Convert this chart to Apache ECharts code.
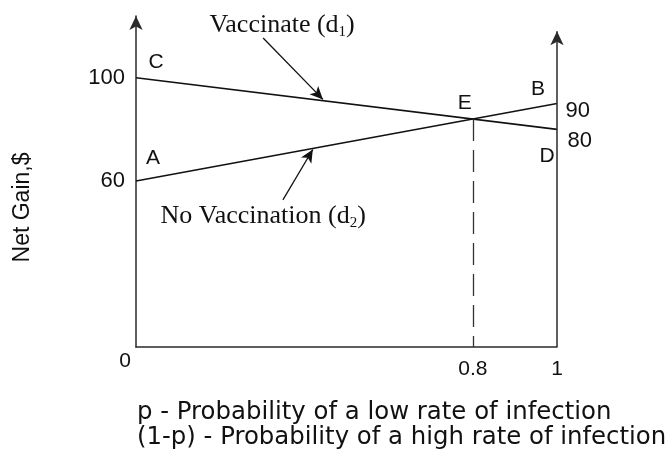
<!DOCTYPE html>
<html>
<head>
<meta charset="utf-8">
<script src="https://cdn.jsdelivr.net/npm/echarts@6/dist/echarts.min.js"></script>
<style>
  html, body { margin: 0; padding: 0; background: #fff; }
  #chart { width: 670px; height: 466px; }
</style>
</head>
<body>
<div id="chart"></div>
<script>
const pValues = [0, 1];
const vaccinate = [100, 80];
const noVaccination = [60, 90];
const breakEven = [0.8, 84];
const yTicks = [60, 100];
const xTicks = [0, 0.8, 1];
const letters = ["C", "A", "E", "B", "D"];
const letterPoints = [
  [pValues[0], vaccinate[0]],
  [pValues[0], noVaccination[0]],
  breakEven,
  [pValues[1], noVaccination[1]],
  [pValues[1], vaccinate[1]],
];
const endPoints = [
  [pValues[1], noVaccination[1]],
  [pValues[1], vaccinate[1]],
];

// layout helpers (data units), picked to sit the marks where the scan has them
const Y_MIN = -4.3;
const Y_MAX = 123.9;
const RIGHT_AXIS_TOP = 118;
const VAC_NOTE = [0.347, 120.4];
const VAC_ARROW = [[0.302, 115.4], [0.444, 91.6]];
const NOVAC_NOTE = [0.302, 46.5];
const NOVAC_ARROW = [[0.349, 52.7], [0.42, 72.2]];

const letterOffset = { C: [20, -16], A: [17, -23], E: [-8, -16], B: [-19, -14], D: [-10, 27] };
const endOffset = [[0, 7], [2, 12]];

const INK = "#111";
const AXIS = "#2a2a2a";
const SANS = "Liberation Sans, Arial, sans-serif";
const SERIF = "Liberation Serif, Times New Roman, serif";

const toPairs = (vals) => pValues.map((p, i) => [p, vals[i]]);

const arrowLine = ([from, to]) => [
  { coord: from, symbol: "none", lineStyle: { color: INK, width: 1.3, type: "solid" } },
  { coord: to, symbol: "arrow" },
];

const hiddenDot = { color: "rgba(0,0,0,0)", opacity: 1 };

const chart = echarts.init(document.getElementById("chart"));

chart.setOption({
  animation: false,
  backgroundColor: "#fff",
  title: {
    text: "p - Probability of a low rate of infection\n(1-p) - Probability of a high rate of infection",
    left: 137,
    top: 400,
    padding: 0,
    textStyle: {
      fontFamily: "DejaVu Sans, sans-serif",
      fontSize: 24.4,
      fontWeight: "normal",
      lineHeight: 25,
      color: INK,
    },
  },
  grid: { left: 136, right: 113, top: 16, bottom: 119 },
  xAxis: {
    type: "value",
    min: 0,
    max: 1,
    axisLine: { onZero: false, lineStyle: { color: AXIS, width: 1.5 } },
    axisTick: { show: false },
    splitLine: { show: false },
    axisLabel: {
      customValues: xTicks,
      margin: 4,
      formatter: (v) => (v === 0 ? "{o|0}" : "{n|" + v + "}"),
      rich: {
        o: { fontFamily: SANS, fontSize: 21, color: INK, padding: [0, 22, 0, 0] },
        n: { fontFamily: SANS, fontSize: 21, color: INK, padding: [8, 0, 0, 0] },
      },
    },
  },
  yAxis: {
    type: "value",
    min: Y_MIN,
    max: Y_MAX,
    name: "Net Gain,$",
    nameLocation: "middle",
    nameRotate: 90,
    nameGap: 102,
    nameTextStyle: {
      fontFamily: SANS,
      fontSize: 23,
      color: INK,
      padding: [0, 52, 0, 0],
    },
    axisLine: {
      show: true,
      onZero: false,
      symbol: ["none", "arrow"],
      symbolSize: [10, 14],
      lineStyle: { color: AXIS, width: 1.5 },
    },
    axisTick: { show: false },
    splitLine: { show: false },
    axisLabel: {
      customValues: yTicks,
      margin: 11,
      fontFamily: SANS,
      fontSize: 22,
      color: INK,
    },
  },
  series: [
    {
      name: "Vaccinate (d1)",
      type: "line",
      data: toPairs(vaccinate),
      symbol: "none",
      lineStyle: { color: INK, width: 1.6 },
      silent: true,
    },
    {
      name: "No Vaccination (d2)",
      type: "line",
      data: toPairs(noVaccination),
      symbol: "none",
      lineStyle: { color: INK, width: 1.6 },
      silent: true,
    },
    {
      name: "letters",
      type: "scatter",
      data: letters.map((name, i) => ({
        name,
        value: letterPoints[i],
        label: { offset: letterOffset[name] },
      })),
      symbolSize: 1,
      itemStyle: hiddenDot,
      clip: false,
      silent: true,
      label: {
        show: true,
        position: "inside",
        formatter: (p) => p.name,
        fontFamily: SANS,
        fontSize: 21,
        color: INK,
        opacity: 1,
        textBorderWidth: 0,
      },
      markLine: {
        silent: true,
        symbolSize: [9, 13],
        label: { show: false },
        data: [
          [
            { coord: [pValues[1], Y_MIN], symbol: "none", lineStyle: { color: AXIS, width: 1.5, type: "solid" } },
            { coord: [pValues[1], RIGHT_AXIS_TOP], symbol: "arrow", symbolSize: [10, 14] },
          ],
          [
            { coord: breakEven, symbol: "none", lineStyle: { color: "#333", width: 1.3, type: [22, 9] } },
            { coord: [breakEven[0], Y_MIN], symbol: "none" },
          ],
          arrowLine(VAC_ARROW),
          arrowLine(NOVAC_ARROW),
        ],
      },
    },
    {
      name: "ends",
      type: "scatter",
      data: endPoints.map((pt, i) => ({ value: pt, label: { offset: endOffset[i] } })),
      symbolSize: 1,
      itemStyle: hiddenDot,
      clip: false,
      silent: true,
      label: {
        show: true,
        position: "right",
        distance: 8,
        formatter: (p) => String(p.value[1]),
        fontFamily: SANS,
        fontSize: 22,
        color: INK,
        opacity: 1,
      },
    },
    {
      name: "notes",
      type: "scatter",
      data: [
        { value: VAC_NOTE, label: { formatter: "{t|Vaccinate (d}{s|1}{t|)}" } },
        { value: NOVAC_NOTE, label: { formatter: "{t|No Vaccination (d}{s|2}{t|)}" } },
      ],
      symbolSize: 1,
      itemStyle: hiddenDot,
      clip: false,
      silent: true,
      label: {
        show: true,
        position: "inside",
        opacity: 1,
        textBorderWidth: 0,
        rich: {
          t: { fontFamily: SERIF, fontSize: 26, color: INK, lineHeight: 30 },
          s: { fontFamily: SERIF, fontSize: 15, color: INK, lineHeight: 14, verticalAlign: "bottom" },
        },
      },
    },
  ],
});
</script>
</body>
</html>
